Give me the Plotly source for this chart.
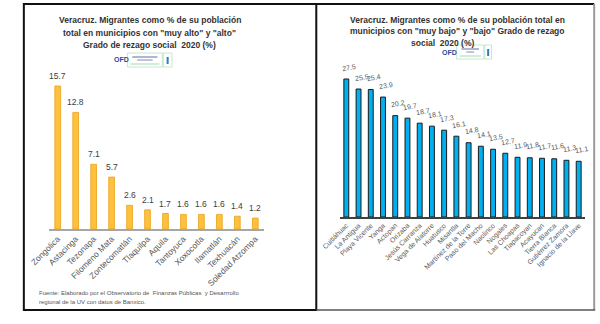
import plotly.graph_objects as go

W, H = 600, 324

left_names = ["Zongolica", "Astacinga", "Tezonapa", "Filomeno Mata", "Zontecomatlán",
              "Tlaquilpa", "Aquila", "Tantoyuca", "Xoxocotla", "Ilamatlán",
              "Texhuacán", "Soledad Atzompa"]
left_vals = [15.7, 12.8, 7.1, 5.7, 2.6, 2.1, 1.7, 1.6, 1.6, 1.6, 1.4, 1.2]

right_names = ["Cuitláhuac", "La Antigua", "Playa Vicente", "Yanga", "Actopan", "Orizaba",
               "Jesús Carranza", "Vega de Alatorre", "Huatusco", "Misantla",
               "Martínez de la Torre", "Paso del Macho", "Naolinco", "Nogales",
               "Las Choapas", "Tlapacoyan", "Acayucan", "Tierra Blanca",
               "Gutiérrez Zamora", "Ignacio de la Llave"]
right_vals = [27.5, 25.5, 25.4, 23.9, 20.2, 19.7, 18.7, 18.1, 17.3, 16.1,
              14.8, 14.1, 13.5, 12.7, 11.9, 11.8, 11.7, 11.6, 11.3, 11.1]

left_title = ["Veracruz. Migrantes como % de su población",
              "total en municipios con \"muy alto\" y \"alto\"",
              "Grado de rezago social  2020 (%)"]
right_title = ["Veracruz. Migrantes como % de su población total en",
               "municipios con \"muy bajo\" y \"bajo\" Grado de rezago",
               "social  2020 (%)"]
source_lines = ["Fuente: Elaborado por el Observatorio de  Finanzas Públicas  y Desarrrollo",
                "regional de la UV con datos de Banxico."]

FONT = "Liberation Sans"


def px(x):
    return x / W


def py(y):
    return 1 - y / H


fig = go.Figure()
fig.add_trace(go.Bar(
    x=left_names, y=left_vals, xaxis="x", yaxis="y", width=0.32,
    marker=dict(color="#FFC13B", line=dict(color="#E9A21C", width=0.8)),
    hoverinfo="skip"))
fig.add_trace(go.Bar(
    x=right_names, y=right_vals, xaxis="x2", yaxis="y2", width=0.4,
    marker=dict(color="#00B0F0", line=dict(color="#1a1a1a", width=1)),
    hoverinfo="skip"))

annotations = []
for n, v in zip(left_names, left_vals):
    annotations.append(dict(x=n, y=v, xref="x", yref="y", text=f"{v:.1f}",
                            showarrow=False, yshift=10, yanchor="middle",
                            font=dict(family=FONT, size=8.5, color="#404040")))
for n, v in zip(right_names, right_vals):
    annotations.append(dict(x=n, y=v, xref="x2", yref="y2", text=f"{v:.1f}",
                            showarrow=False, yshift=12, xshift=3, yanchor="middle",
                            textangle=-10,
                            font=dict(family=FONT, size=7, color="#595959")))

for i, t in enumerate(left_title):
    annotations.append(dict(x=px(135), y=py(20 + 12.5 * i), xref="paper", yref="paper",
                            text=f"<b>{t}</b>", showarrow=False, xanchor="center",
                            yanchor="middle", font=dict(family=FONT, size=8.5, color="#333333")))
right_title_x = [453, 453, 437]
for i, t in enumerate(right_title):
    annotations.append(dict(x=px(right_title_x[i]), y=py(20.5 + 11 * i), xref="paper", yref="paper",
                            text=f"<b>{t}</b>", showarrow=False, xanchor="center",
                            yanchor="middle", font=dict(family=FONT, size=8.5, color="#333333")))
for i, t in enumerate(source_lines):
    annotations.append(dict(x=px(19), y=py(293 + 9 * i), xref="paper", yref="paper",
                            text=t, showarrow=False, xanchor="left", yanchor="middle",
                            font=dict(family=FONT, size=6, color="#555555")))

# logos (approximate)
shapes = []
for (ox, oy, bx0, bx1, sx1) in [(106, 60, 112, 148, 158), (445, 52, 452, 480, 488)]:
    annotations.append(dict(x=px(ox), y=py(oy), xref="paper", yref="paper", text="<b>OFD</b>",
                            showarrow=False, xanchor="center", yanchor="middle",
                            font=dict(family=FONT, size=7, color="#1F4E9A")))
    shapes.append(dict(type="rect", xref="paper", yref="paper", x0=px(bx0), x1=px(bx1),
                       y0=py(oy + 7), y1=py(oy - 7), line=dict(color="#9fd8b0", width=0.6),
                       fillcolor="white"))
    shapes.append(dict(type="rect", xref="paper", yref="paper", x0=px(bx1 + 1), x1=px(sx1),
                       y0=py(oy + 7), y1=py(oy - 7), line=dict(color="#9fd8b0", width=0.6),
                       fillcolor="white"))
    shapes.append(dict(type="line", xref="paper", yref="paper", x0=px(bx0 + 5), x1=px(bx1 - 5),
                       y0=py(oy - 3), y1=py(oy - 3), line=dict(color="#5a6fa8", width=1)))
    shapes.append(dict(type="line", xref="paper", yref="paper", x0=px(bx0 + 10), x1=px(bx1 - 10),
                       y0=py(oy), y1=py(oy), line=dict(color="#5a6fa8", width=0.8)))
    shapes.append(dict(type="line", xref="paper", yref="paper", x0=px(bx0 + 3), x1=px(bx1 - 3),
                       y0=py(oy + 4), y1=py(oy + 4), line=dict(color="#8fd0a0", width=0.8)))
    cx = (bx1 + 1 + sx1) / 2
    shapes.append(dict(type="line", xref="paper", yref="paper", x0=px(cx), x1=px(cx),
                       y0=py(oy + 4), y1=py(oy - 3), line=dict(color="#2a7fc0", width=2)))

# frames
shapes += [
    dict(type="rect", xref="paper", yref="paper", x0=px(5), x1=px(307), y0=py(310), y1=py(4),
         line=dict(color="#111111", width=2)),
    dict(type="line", xref="paper", yref="paper", x0=px(307), x1=px(594), y0=py(4), y1=py(4),
         line=dict(color="#111111", width=2)),
    dict(type="line", xref="paper", yref="paper", x0=px(594), x1=px(594), y0=py(4), y1=py(310),
         line=dict(color="#9a9a9a", width=2)),
    dict(type="line", xref="paper", yref="paper", x0=px(307), x1=px(595), y0=py(310), y1=py(310),
         line=dict(color="#555555", width=1.5)),
]

fig.update_layout(
    width=W, height=H, margin=dict(l=0, r=0, t=0, b=0),
    paper_bgcolor="white", plot_bgcolor="white", showlegend=False,
    xaxis=dict(domain=[px(30.7), px(253.3)], anchor="y", type="category",
               range=[-0.5, len(left_names) - 0.5], showline=True, linecolor="#a6a6a6",
               linewidth=1.5, tickangle=-45, ticks="", showgrid=False, zeroline=False,
               tickfont=dict(family=FONT, size=8.5, color="#595959")),
    yaxis=dict(domain=[py(229), py(229 - 17 * 143 / 15.7)], anchor="x", range=[0, 17],
               visible=False),
    xaxis2=dict(domain=[px(331.7), px(584.3)], anchor="y2", type="category",
                range=[-0.5, len(right_names) - 0.5], showline=True, linecolor="#404040",
                linewidth=1.5, tickangle=-45, ticks="", showgrid=False, zeroline=False,
                tickfont=dict(family=FONT, size=7, color="#595959")),
    yaxis2=dict(domain=[py(217), py(217 - 30 * 138 / 27.5)], anchor="x2", range=[0, 30],
                visible=False),
    annotations=annotations, shapes=shapes,
)

fig.write_html("out.html")
